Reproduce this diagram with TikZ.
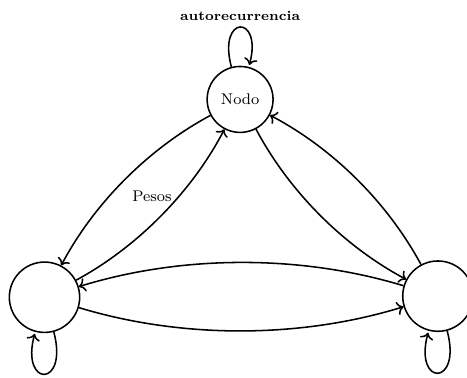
\documentclass[tikz,border=0pt]{standalone}
\usepackage{amsmath}
\usepackage{tikz}
\usetikzlibrary{arrows.meta,calc}

\begin{document}
\begin{tikzpicture}[
        ->,
        thick,
        state/.style={
            circle,
            draw,
            minimum size=1.2cm,
            font=\footnotesize
        },
        hidden/.style={
            state,
            minimum size=1.28cm
        },
        line/.style={->, thick, bend right=17, looseness=0.85}
    ]

    \useasboundingbox (0,0) rectangle (8.50,-6.88);

    % NODES
    \node[state] (nodo) at (4.37,-1.81) {Nodo};
    \node[hidden] (izq) at (0.81,-5.41) {};
    \node[hidden] (der) at (7.97,-5.39) {};

    % LOOPS
    \path (nodo) edge[loop above] node[above, font=\scriptsize\bfseries] {autorecurrencia} (nodo);
    \path (izq) edge[loop below] (izq);
    \path (der) edge[loop below] (der);

    % CONNECTIONS
    \draw[line] (nodo) to (izq);
    \draw[line] (izq) to node[pos=0.62, left, font=\footnotesize] {Pesos} (nodo);
    \draw[line] (nodo) to (der);
    \draw[line] (der) to (nodo);
    \draw[line] (izq) to (der);
    \draw[line] (der) to (izq);

\end{tikzpicture}
\end{document}
